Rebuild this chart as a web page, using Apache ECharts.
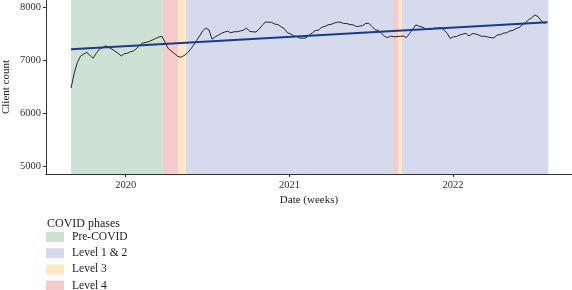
<!DOCTYPE html>
<html>
<head>
<meta charset="utf-8">
<script src="https://cdn.jsdelivr.net/npm/echarts@6/dist/echarts.min.js"></script>
<style>
  html, body { margin: 0; padding: 0; background: #fff; }
  #chart { width: 572px; height: 290px; }
</style>
</head>
<body>
<div id="chart"></div>
<script>
// weekly client counts, first week starting 2019-09-01
var firstWeek = '2019-09-01';
var clientCount = [
  6480, 6760, 6960, 7080, 7120, 7150, 7100, 7040, 7130, 7210,
  7240, 7275, 7245, 7215, 7175, 7135, 7085, 7125, 7135, 7165,
  7180, 7230, 7295, 7330, 7340, 7360, 7385, 7415, 7440, 7455,
  7340, 7225, 7175, 7130, 7080, 7060, 7090, 7135, 7200, 7280,
  7370, 7460, 7555, 7610, 7575, 7400, 7445, 7475, 7510, 7535,
  7550, 7520, 7540, 7540, 7555, 7570, 7610, 7545, 7540, 7535,
  7590, 7660, 7725, 7720, 7715, 7685, 7675, 7635, 7600, 7525,
  7500, 7465, 7450, 7420, 7420, 7425, 7475, 7520, 7565, 7570,
  7625, 7640, 7670, 7680, 7705, 7720, 7720, 7695, 7695, 7675,
  7670, 7640, 7645, 7655, 7695, 7700, 7640, 7580, 7565, 7515,
  7455, 7430, 7460, 7445, 7450, 7455, 7460, 7430, 7505, 7585,
  7670, 7645, 7630, 7600, 7595, 7585, 7610, 7610, 7615, 7575,
  7510, 7415, 7445, 7450, 7480, 7495, 7510, 7460, 7505, 7500,
  7480, 7455, 7455, 7440, 7430, 7425, 7480, 7485, 7515, 7520,
  7555, 7565, 7600, 7620, 7670, 7710, 7765, 7805, 7855, 7825,
  7750, 7700, 7725
];

// linear trend end points
var trendDates = ['2019-09-01', '2022-07-31'];
var trendValues = [7210, 7720];

// COVID phase spans
var phaseNames = ['Pre-COVID', 'Level 1 & 2', 'Level 3', 'Level 4'];
var phaseColors = ['#cde2d5', '#d5daec', '#fde8c6', '#f5caca'];
var preCovid = [['2019-09-01', '2020-03-24']];
var level12 = [['2020-05-14', '2021-08-20'], ['2021-09-09', '2022-08-02']];
var level3 = [['2020-04-27', '2020-05-14'], ['2021-09-01', '2021-09-09']];
var level4 = [['2020-03-24', '2020-04-27'], ['2021-08-20', '2021-09-01']];
var phaseSpans = [preCovid, level12, level3, level4];

var yearTicks = ['2020-01-01', '2021-01-01', '2022-01-01'];
var yTicks = [5000, 6000, 7000, 8000];

var FONT = '"Liberation Serif", "DejaVu Serif", serif';

function toTime(s) {
    var p = s.split('-');
    return Date.UTC(+p[0], +p[1] - 1, +p[2]);
}

var lineData = [];
var start = toTime(firstWeek);
for (var i = 0; i < clientCount.length; i++) {
    lineData.push([start + i * 7 * 86400000, clientCount[i]]);
}

var trendData = [];
for (var i = 0; i < trendDates.length; i++) {
    trendData.push([toTime(trendDates[i]), trendValues[i]]);
}

var series = [];
for (var k = 0; k < phaseNames.length; k++) {
    var areas = [];
    for (var j = 0; j < phaseSpans[k].length; j++) {
        areas.push([
            { xAxis: toTime(phaseSpans[k][j][0]) },
            { xAxis: toTime(phaseSpans[k][j][1]) }
        ]);
    }
    series.push({
        name: phaseNames[k],
        type: 'line',
        data: [],
        color: phaseColors[k],
        itemStyle: { color: phaseColors[k] },
        silent: true,
        markArea: {
            silent: true,
            itemStyle: { color: phaseColors[k], opacity: 1 },
            data: areas
        }
    });
}

series.push({
    name: 'Client count',
    type: 'line',
    data: lineData,
    showSymbol: false,
    symbol: 'none',
    lineStyle: { color: '#111', width: 0.9 },
    z: 5
});

series.push({
    name: 'Trend',
    type: 'line',
    data: trendData,
    showSymbol: false,
    symbol: 'none',
    lineStyle: { color: '#1a3a8e', width: 2 },
    z: 6
});

var chart = echarts.init(document.getElementById('chart'));
chart.setOption({
    animation: false,
    textStyle: { fontFamily: FONT },
    title: {
        text: 'COVID phases',
        left: 42,
        top: 213,
        textStyle: { fontFamily: FONT, fontSize: 12, fontWeight: 'normal', color: '#222' }
    },
    legend: {
        data: phaseNames,
        orient: 'vertical',
        left: 46,
        top: 231,
        height: 80,
        padding: 0,
        icon: 'rect',
        itemWidth: 18,
        itemHeight: 10,
        itemGap: 4.2,
        textStyle: { fontFamily: FONT, fontSize: 11.5, color: '#222', lineHeight: 12, padding: [0, 0, 0, 3] },
        selectedMode: false
    },
    grid: { left: 46, right: 0, top: 0, height: 174, outerBoundsMode: 'none', containLabel: false },
    xAxis: {
        type: 'value',
        min: toTime('2019-07-07'),
        max: toTime('2022-09-24'),
        name: 'Date (weeks)',
        nameLocation: 'middle',
        nameGap: 21,
        nameMoveOverlap: false,
        nameTextStyle: { fontFamily: FONT, fontSize: 11, color: '#222' },
        axisLine: { lineStyle: { color: '#333', width: 1 } },
        axisTick: {
            show: true, length: 3, inside: false,
            customValues: yearTicks.map(toTime),
            lineStyle: { color: '#333' }
        },
        axisLabel: {
            customValues: yearTicks.map(toTime),
            formatter: function (v) { return String(new Date(v).getUTCFullYear()); },
            fontFamily: FONT, fontSize: 10.5, color: '#333', margin: 6
        },
        splitLine: { show: false }
    },
    yAxis: {
        type: 'value',
        min: 4862,
        max: 8138,
        name: 'Client count',
        nameLocation: 'middle',
        nameGap: 34,
        nameMoveOverlap: false,
        nameRotate: 90,
        nameTextStyle: { fontFamily: FONT, fontSize: 11, color: '#222' },
        axisLine: { show: true, lineStyle: { color: '#333', width: 1 } },
        axisTick: {
            show: true, length: 3, inside: false,
            customValues: yTicks,
            lineStyle: { color: '#333' }
        },
        axisLabel: {
            customValues: yTicks,
            formatter: function (v) { return String(v); },
            fontFamily: FONT, fontSize: 10.5, color: '#333', margin: 5
        },
        splitLine: { show: false }
    },
    series: series
});
</script>
</body>
</html>
